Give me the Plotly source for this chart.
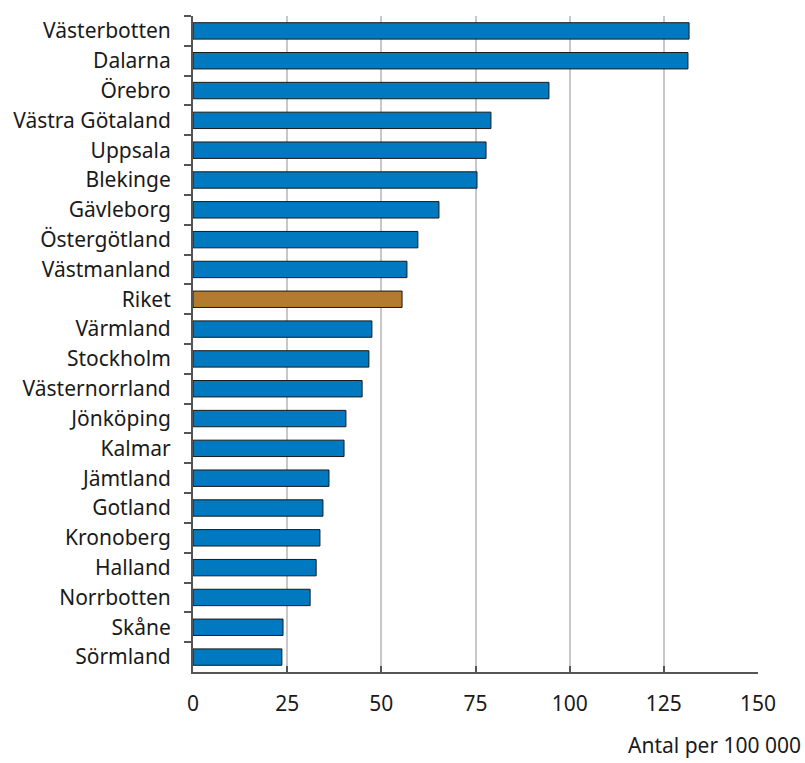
import plotly.graph_objects as go

# Län, sorted as in the chart (top to bottom)
lan = [
    "Västerbotten", "Dalarna", "Örebro", "Västra Götaland", "Uppsala",
    "Blekinge", "Gävleborg", "Östergötland", "Västmanland", "Riket",
    "Värmland", "Stockholm", "Västernorrland", "Jönköping", "Kalmar",
    "Jämtland", "Gotland", "Kronoberg", "Halland", "Norrbotten",
    "Skåne", "Sörmland",
]
antal = [
    131.7, 131.4, 94.5, 79.1, 77.8,
    75.4, 65.3, 59.7, 56.8, 55.5,
    47.5, 46.7, 44.9, 40.6, 40.1,
    36.1, 34.5, 33.7, 32.7, 31.1,
    23.9, 23.6,
]
x_ticks = [0, 25, 50, 75, 100, 125, 150]

colors = ['#B27B2F' if n == "Riket" else '#0079C1' for n in lan]

fig = go.Figure()
fig.add_trace(go.Bar(
    x=antal,
    y=lan,
    orientation='h',
    marker=dict(color=colors, line=dict(color='#1a1a1a', width=1)),
    hoverinfo='x+y',
))

fig.update_layout(
    width=805,
    height=763,
    margin=dict(l=193, r=47, t=16, b=91),
    plot_bgcolor='white',
    paper_bgcolor='white',
    font=dict(family='Noto Sans, Open Sans, sans-serif', size=21, color='#1a1a1a'),
    showlegend=False,
    bargap=0.45,
    xaxis=dict(
        range=[0, 150],
        tickvals=x_ticks,
        showgrid=True,
        gridcolor='#c8c8c8',
        gridwidth=2,
        zeroline=False,
        showline=True,
        linecolor='#555555',
        linewidth=2,
        ticks='inside',
        ticklen=6,
        tickwidth=2,
        tickcolor='#555555',
        ticklabelstandoff=12,
    ),
    yaxis=dict(
        autorange='reversed',
        showline=True,
        linecolor='#555555',
        linewidth=2,
        ticks='outside',
        tickson='boundaries',
        ticklen=7,
        tickwidth=2,
        tickcolor='#555555',
        ticklabelstandoff=16,
        showgrid=False,
    ),
    annotations=[dict(
        text='Antal per 100 000',
        xref='paper', yref='paper',
        x=1.08, y=-0.111,
        xanchor='right', yanchor='middle',
        showarrow=False,
        font=dict(size=21),
    )],
)

# drop the default page margin so the figure fills the window exactly
fig.write_html(
    "out.html",
    config={'displayModeBar': False},
    post_script="document.body.style.margin='0';",
)
